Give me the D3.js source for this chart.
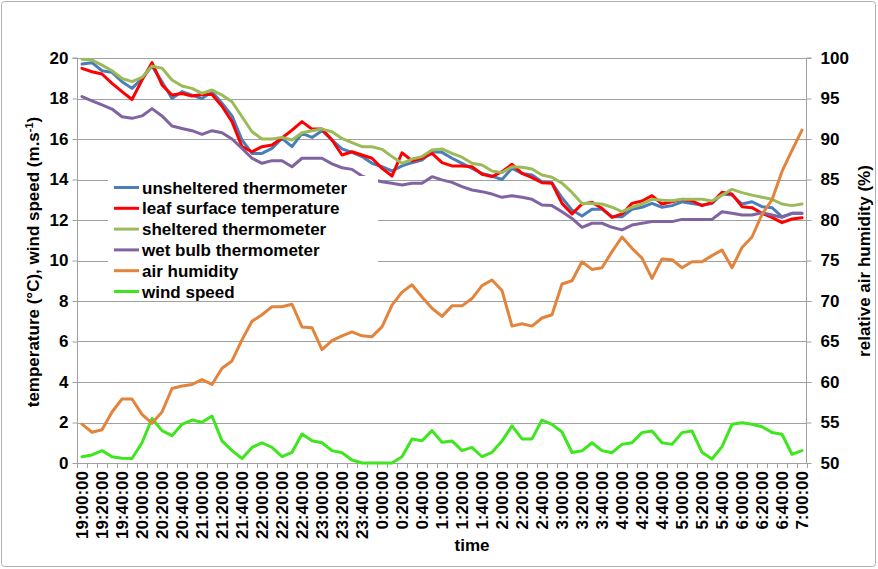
<!DOCTYPE html>
<html>
<head>
<meta charset="utf-8">
<script src="https://cdn.jsdelivr.net/npm/d3@7"></script>
<style>
  html, body { margin: 0; padding: 0; background: #fff; }
  svg text { font-family: "Liberation Sans", Arial, sans-serif; font-weight: bold; fill: #000; }
</style>
</head>
<body>
<svg id="chart" width="878" height="569"></svg>
<script>
const categories = [
  "19:00:00","19:10:00","19:20:00","19:30:00","19:40:00","19:50:00",
  "20:00:00","20:10:00","20:20:00","20:30:00","20:40:00","20:50:00",
  "21:00:00","21:10:00","21:20:00","21:30:00","21:40:00","21:50:00",
  "22:00:00","22:10:00","22:20:00","22:30:00","22:40:00","22:50:00",
  "23:00:00","23:10:00","23:20:00","23:30:00","23:40:00","23:50:00",
  "0:00:00","0:10:00","0:20:00","0:30:00","0:40:00","0:50:00",
  "1:00:00","1:10:00","1:20:00","1:30:00","1:40:00","1:50:00",
  "2:00:00","2:10:00","2:20:00","2:30:00","2:40:00","2:50:00",
  "3:00:00","3:10:00","3:20:00","3:30:00","3:40:00","3:50:00",
  "4:00:00","4:10:00","4:20:00","4:30:00","4:40:00","4:50:00",
  "5:00:00","5:10:00","5:20:00","5:30:00","5:40:00","5:50:00",
  "6:00:00","6:10:00","6:20:00","6:30:00","6:40:00","6:50:00",
  "7:00:00"
];

const unsheltered = [
  19.70,19.77,19.37,19.29,18.83,18.50,18.99,19.60,18.83,18.00,
  18.34,18.17,18.00,18.34,17.77,17.14,15.95,15.29,15.29,15.54,
  16.03,15.62,16.28,16.08,16.41,15.95,15.51,15.34,15.13,14.80,
  14.63,14.42,14.67,14.83,14.96,15.37,15.34,15.05,14.80,14.55,
  14.30,14.17,14.00,14.55,14.30,14.22,13.89,13.84,13.10,12.49,
  12.20,12.53,12.53,12.16,12.16,12.53,12.63,12.82,12.63,12.71,
  12.90,12.82,12.74,12.82,13.28,13.23,12.79,12.90,12.66,12.61,
  12.16,12.33,12.33
];
const leafSurface = [
  19.49,19.32,19.21,18.75,18.34,17.95,18.91,19.77,18.67,18.17,
  18.25,18.12,18.20,18.20,17.62,16.86,15.62,15.37,15.62,15.70,
  16.05,16.44,16.86,16.49,16.49,15.95,15.21,15.37,15.21,15.05,
  14.55,14.17,15.32,14.93,15.05,15.29,14.83,14.67,14.67,14.63,
  14.26,14.14,14.39,14.75,14.30,14.09,13.84,13.81,12.82,12.30,
  12.79,12.87,12.58,12.13,12.30,12.82,12.94,13.20,12.79,12.90,
  13.02,12.95,12.71,12.86,13.37,13.28,12.66,12.61,12.33,12.13,
  11.87,12.05,12.11
];
const sheltered = [
  19.94,19.90,19.65,19.37,18.99,18.83,19.04,19.60,19.49,18.91,
  18.62,18.50,18.25,18.42,18.17,17.84,17.10,16.36,16.00,16.00,
  16.08,15.95,16.31,16.41,16.49,16.36,16.03,15.82,15.62,15.62,
  15.49,15.13,14.80,15.01,15.13,15.46,15.51,15.29,15.10,14.80,
  14.72,14.42,14.34,14.63,14.60,14.52,14.22,14.11,13.82,13.36,
  12.82,12.82,12.79,12.63,12.41,12.63,12.79,13.02,12.98,12.95,
  13.02,13.02,13.02,12.94,13.23,13.51,13.35,13.23,13.12,13.02,
  12.79,12.71,12.79
];
const wetBulb = [
  18.09,17.88,17.68,17.48,17.10,17.02,17.14,17.50,17.14,16.64,
  16.52,16.41,16.23,16.41,16.31,16.00,15.54,15.05,14.80,14.93,
  14.93,14.63,15.05,15.05,15.05,14.77,14.58,14.50,14.17,14.00,
  13.89,13.81,13.73,13.81,13.81,14.14,13.98,13.86,13.65,13.48,
  13.40,13.28,13.12,13.20,13.12,13.02,12.74,12.71,12.41,12.08,
  11.64,11.84,11.84,11.64,11.51,11.75,11.84,11.92,11.92,11.92,
  12.03,12.03,12.03,12.03,12.41,12.33,12.25,12.25,12.36,12.25,
  12.13,12.33,12.33
];
const airHumidity = [
  54.8,53.8,54.1,56.3,57.9,57.9,56.0,54.9,56.3,59.2,
  59.5,59.7,60.3,59.7,61.7,62.6,65.2,67.5,68.3,69.3,
  69.3,69.6,66.8,66.7,64.0,65.1,65.7,66.2,65.7,65.6,
  66.8,69.5,71.1,72.0,70.5,69.1,68.1,69.4,69.4,70.3,
  71.9,72.6,71.3,66.9,67.2,66.9,67.9,68.3,72.1,72.5,
  74.85,73.9,74.1,76.1,77.9,76.5,75.3,72.8,75.2,75.1,
  74.1,74.85,74.85,75.6,76.3,74.1,76.6,77.9,80.7,82.5,
  86.0,88.6,91.1
];
const windSpeed = [
  0.31,0.40,0.61,0.31,0.23,0.22,1.00,2.20,1.60,1.35,
  1.91,2.12,2.01,2.32,1.09,0.61,0.22,0.77,1.00,0.77,
  0.32,0.53,1.43,1.10,1.00,0.61,0.51,0.15,0.00,0.00,
  0.00,0.00,0.31,1.19,1.10,1.60,1.02,1.09,0.61,0.77,
  0.31,0.53,1.09,1.83,1.19,1.19,2.12,1.91,1.53,0.52,
  0.60,1.00,0.61,0.51,0.92,1.00,1.50,1.58,1.00,0.92,
  1.50,1.58,0.53,0.20,0.81,1.91,1.99,1.91,1.79,1.51,
  1.42,0.43,0.61
];

const leftTicks = [0,2,4,6,8,10,12,14,16,18,20];
const rightTicks = [50,55,60,65,70,75,80,85,90,95,100];

const seriesNames = ["unsheltered thermometer","leaf surface temperature","sheltered thermometer","wet bulb thermometer","air humidity","wind speed"];
const seriesColors = ["#4a7ebb","#ff0000","#9bbb59","#8064a2","#e3843c","#3ee61e"];

const W = 878, H = 569;
const plot = {left: 77, right: 807, top: 58, bottom: 463};

const svg = d3.select("#chart");

svg.append("rect").attr("x",1.5).attr("y",1.5).attr("width",W-4).attr("height",H-4)
  .attr("rx",3).attr("fill","#fff").attr("stroke","#b0b0b0").attr("stroke-width",1);

const x = d3.scalePoint().domain(categories).range([plot.left, plot.right]).padding(0.5);
const step = x.step();
const yL = d3.scaleLinear().domain([0,20]).range([plot.bottom, plot.top]);
const yR = d3.scaleLinear().domain([50,100]).range([plot.bottom, plot.top]);

const gridColor = "#a0a0a0";

// gridlines
svg.append("g").selectAll("line").data(leftTicks.filter(d => d > 0)).join("line")
  .attr("x1", plot.left).attr("x2", plot.right)
  .attr("y1", d => Math.round(yL(d)) + 0.5).attr("y2", d => Math.round(yL(d)) + 0.5)
  .attr("stroke", gridColor).attr("stroke-width", 1);

// left axis
const leftAxis = d3.axisLeft(yL).tickValues(leftTicks).tickSize(5).tickPadding(4);
const gL = svg.append("g").attr("transform", `translate(${plot.left + 0.5},0)`).call(leftAxis);
gL.select(".domain").attr("stroke", gridColor).attr("d", `M-5,${plot.top}H0V${plot.bottom}`);
gL.selectAll(".tick line").attr("stroke", gridColor);
gL.selectAll(".tick text").style("font-size","17px").attr("fill","#000");

// right axis
const rightAxis = d3.axisRight(yR).tickValues(rightTicks).tickSize(5).tickPadding(9);
const gR = svg.append("g").attr("transform", `translate(${plot.right - 0.5},0)`).call(rightAxis);
gR.select(".domain").attr("stroke", gridColor).attr("d", `M5,${plot.top}H0V${plot.bottom}`);
gR.selectAll(".tick line").attr("stroke", gridColor);
gR.selectAll(".tick text").style("font-size","17px").attr("fill","#000");

// bottom axis: ticks at category boundaries, labels every other category
const boundaries = d3.range(categories.length + 1).map(i => plot.left + i * step);
svg.append("line").attr("x1", plot.left).attr("x2", plot.right)
  .attr("y1", plot.bottom + 0.5).attr("y2", plot.bottom + 0.5).attr("stroke", gridColor);
svg.append("g").selectAll("line").data(boundaries).join("line")
  .attr("x1", d => Math.round(d) + 0.5).attr("x2", d => Math.round(d) + 0.5)
  .attr("y1", plot.bottom).attr("y2", plot.bottom + 5).attr("stroke", gridColor);
svg.append("g").selectAll("text").data(categories.filter((c, i) => i % 2 === 0)).join("text")
  .attr("transform", d => `translate(${x(d) + 6},${plot.bottom + 8}) rotate(-90)`)
  .attr("text-anchor", "end")
  .style("font-size", "17px")
  .text(d => d);

// lines
const tempSeries = [unsheltered, leafSurface, sheltered, wetBulb];
const lineL = d3.line().x((d, i) => x(categories[i])).y(d => yL(d));
const lineR = d3.line().x((d, i) => x(categories[i])).y(d => yR(d));

const linesG = svg.append("g").attr("fill", "none").attr("stroke-width", 3)
  .attr("stroke-linejoin", "round").attr("stroke-linecap", "round");
tempSeries.forEach((s, k) => {
  linesG.append("path").attr("d", lineL(s)).attr("stroke", seriesColors[k]);
});
linesG.append("path").attr("d", lineL(windSpeed)).attr("stroke", seriesColors[5]);
linesG.append("path").attr("d", lineR(airHumidity)).attr("stroke", seriesColors[4]);

// legend
const legend = svg.append("g");
legend.append("rect").attr("x", 108).attr("y", 176).attr("width", 270).attr("height", 124).attr("fill", "#fff");
const legY0 = 187.5, legStep = 20.8;
seriesNames.forEach((name, k) => {
  const yy = legY0 + k * legStep;
  legend.append("line").attr("x1", 114).attr("x2", 139).attr("y1", yy).attr("y2", yy)
    .attr("stroke", seriesColors[k]).attr("stroke-width", 3);
  legend.append("text").attr("x", 142).attr("y", yy + 6).style("font-size", "17px").text(name);
});

// axis titles
const tl = svg.append("text").attr("transform", `translate(39,262) rotate(-90)`)
  .attr("text-anchor", "middle").style("font-size", "17px");
tl.append("tspan").text("temperature (°C), wind speed (m.s");
tl.append("tspan").attr("dy", -6).style("font-size", "11px").text("-1");
tl.append("tspan").attr("dy", 6).text(")");

svg.append("text").attr("transform", `translate(870,261) rotate(-90)`)
  .attr("text-anchor", "middle").style("font-size", "17px").text("relative air humidity (%)");

svg.append("text").attr("x", 472).attr("y", 551).attr("text-anchor", "middle")
  .style("font-size", "17px").text("time");
</script>
</body>
</html>
